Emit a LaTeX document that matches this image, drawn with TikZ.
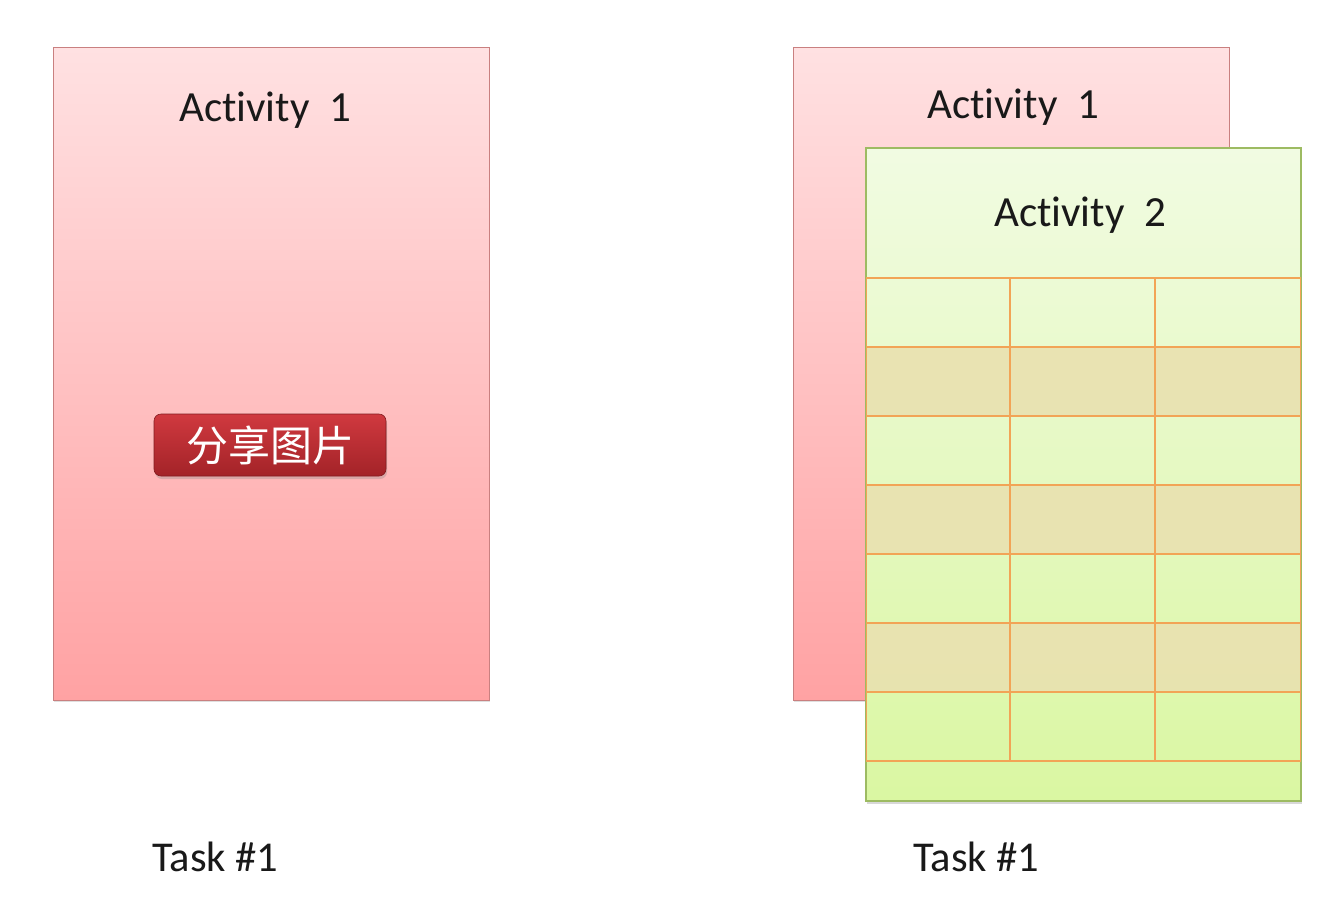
\documentclass[tikz,border=0pt]{standalone}
\usepackage{fontspec}
\setmainfont{Carlito}[Ligatures=NoCommon]
\newfontfamily\cjk{Noto Sans CJK SC}
\usetikzlibrary{shadows}
\definecolor{pinktop}{HTML}{FFE1E2}
\definecolor{pinkbot}{HTML}{FFA2A3}
\definecolor{pinkline}{HTML}{C98080}
\definecolor{greentop}{HTML}{F1FBE2}
\definecolor{greenbot}{HTML}{DAF7A2}
\definecolor{greenline}{HTML}{9DBB62}
\definecolor{gridline}{HTML}{F2A456}
\definecolor{rowtan}{HTML}{E9E1B0}
\definecolor{btntop}{HTML}{D0393F}
\definecolor{btnbot}{HTML}{A32328}
\tikzset{
  pinkbox/.style={rectangle, inner sep=0pt, line width=1pt, draw=pinkline,
    top color=pinktop, bottom color=pinkbot,
    drop shadow={shadow xshift=1pt, shadow yshift=-2pt, opacity=0.25},
    minimum width=436pt, minimum height=653pt},
  greenbox/.style={rectangle, inner sep=0pt, line width=1.2pt, draw=greenline,
    top color=greentop, bottom color=greenbot,
    drop shadow={shadow xshift=1pt, shadow yshift=-3pt, opacity=0.3},
    minimum width=435pt, minimum height=653pt},
  title/.style={font=\fontsize{43}{48}\selectfont, text=black!90},
  tasklabel/.style={font=\fontsize{42.5}{48}\selectfont, text=black!90, anchor=west},
  button/.style={rectangle, rounded corners=7pt, inner sep=0pt,
    top color=btntop, bottom color=btnbot, draw=btnbot!80!black, line width=0.6pt,
    drop shadow={shadow xshift=1pt, shadow yshift=-3pt, opacity=0.3},
    minimum width=232pt, minimum height=62pt, text=white,
    font=\cjk\fontsize{42}{46}\selectfont},
  grid/.style={draw=gridline, line width=1.2pt},
}
\begin{document}
\begin{tikzpicture}[x=1pt,y=-1pt]
\useasboundingbox (0,0) rectangle (1340,908);
\fill[white] (0,0) rectangle (1340,908);

% left task: a single activity with a share button
\node[pinkbox] (leftact) at (271,373.5) {};
\node[title] (lefttitle) at (265,110) {Activity\ \ 1};
\node[button] (share) at (270,445) {分享图片};
\node[tasklabel] (lefttask) at (149,857) {Task \#1};

% right task: activity 2 stacked over activity 1
\node[pinkbox] (rightact) at (1011,373.5) {};
\node[title] (righttitle) at (1013,107) {Activity\ \ 1};
\node[greenbox] (topact) at (1083.5,474.5) {};
\node[title] (toptitle) at (1080,215) {Activity\ \ 2};
\node[tasklabel] (righttask) at (910,857) {Task \#1};

% alternate list rows inside activity 2
\foreach \y in {347,485,623}
  \fill[rowtan, opacity=0.9] (866.5,\y) rectangle (1300.5,\y+69);
\foreach \y in {278,416,485,554,623,692,761}
  \draw[grid] (866,\y) -- (1301,\y);
\draw[grid, line width=2.4pt] (866,347) -- (1301,347);
\foreach \x in {1010,1155}
  \draw[grid] (\x,278) -- (\x,761);
\draw[grid] (866.5,278) -- (866.5,761);
\draw[grid] (1300.5,278) -- (1300.5,761);
\end{tikzpicture}
\end{document}
